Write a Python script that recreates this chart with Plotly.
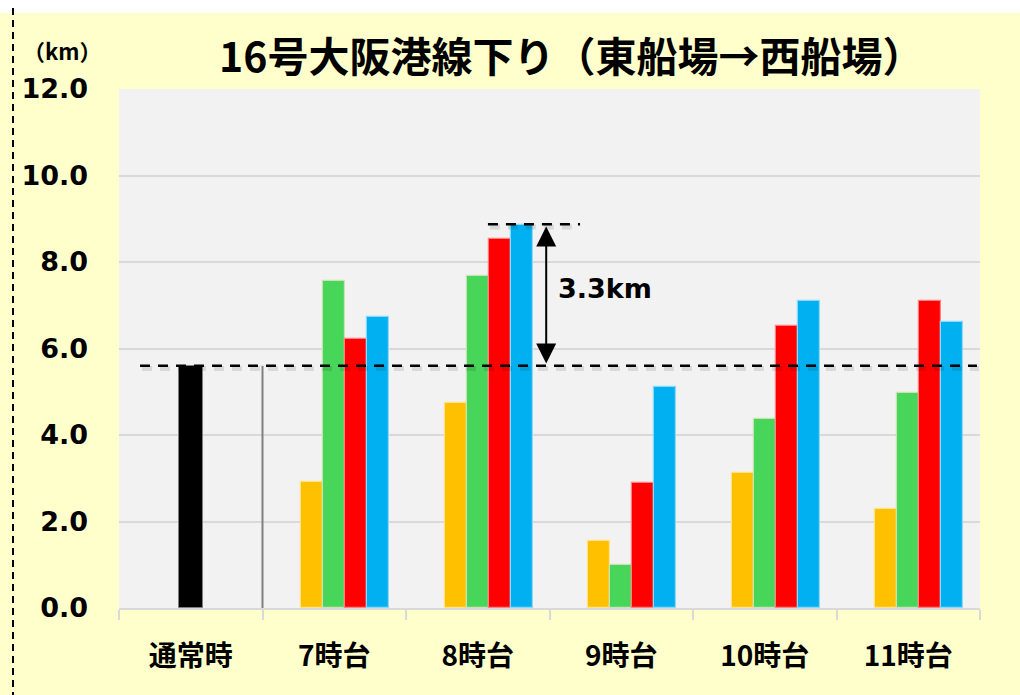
import plotly.graph_objects as go

categories = ["通常時", "7時台", "8時台", "9時台", "10時台", "11時台"]
normal = [5.6, None, None, None, None, None]
s_yellow = [None, 2.92, 4.73, 1.54, 3.13, 2.28]
s_green = [None, 7.57, 7.67, 0.99, 4.38, 4.98]
s_red = [None, 6.23, 8.53, 2.89, 6.53, 7.09]
s_blue = [None, 6.72, 8.85, 5.10, 7.10, 6.62]
normal_level = 5.6
peak_level = 8.87
diff_label = "3.3km"
title_text = "16号大阪港線下り（東船場→西船場）"
unit_label = "（km）"
y_ticks = [0, 2, 4, 6, 8, 10, 12]

W, H = 1020, 695
L, R, T, B = 119, 40, 89, 87
PW, PH = W - L - R, H - T - B

def px_x(px):
    return (px - L) / PW

def px_y(py):
    return 1 - (py - T) / PH

fig = go.Figure()
bw = 0.1533
series = [
    (s_yellow, "#FFC000", "#FFE38A", -0.2300),
    (s_green, "#47D55A", "#C9E3B5", -0.0767),
    (s_red, "#FF0000", "#FF8080", 0.0767),
    (s_blue, "#00B0F0", "#8AD9F7", 0.2300),
]
fig.add_trace(go.Bar(x=categories, y=normal, width=[0.167] * 6, offset=[-0.0835] * 6,
                     marker=dict(color="#000000", line=dict(color="#7F7F7F", width=1)),
                     showlegend=False, hoverinfo="skip"))
for vals, col, lcol, off in series:
    fig.add_trace(go.Bar(x=categories, y=vals, width=[bw] * 6, offset=[off] * 6,
                         marker=dict(color=col, line=dict(color=lcol, width=1.2)),
                         showlegend=False, hoverinfo="skip"))

shapes = []
# white top strip
shapes.append(dict(type="rect", xref="paper", yref="paper", x0=px_x(0), x1=px_x(W),
                   y0=px_y(13), y1=px_y(0), fillcolor="white", line=dict(width=0), layer="below"))
# left dashed line
shapes.append(dict(type="line", xref="paper", yref="paper", x0=px_x(13), x1=px_x(13),
                   y0=px_y(8), y1=px_y(H), line=dict(color="black", width=2, dash="7px,5px")))
# separator
shapes.append(dict(type="line", xref="x", yref="y", x0=0.5, x1=0.5, y0=0, y1=normal_level,
                   line=dict(color="#808080", width=2)))
# shadows of dashed lines
shapes.append(dict(type="line", xref="paper", yref="y", x0=px_x(142), x1=px_x(979),
                   y0=normal_level - 0.06, y1=normal_level - 0.06,
                   line=dict(color="rgba(0,0,0,0.10)", width=5, dash="10px,8px")))
shapes.append(dict(type="line", xref="x", yref="y", x0=2.085, x1=2.713,
                   y0=peak_level - 0.06, y1=peak_level - 0.06,
                   line=dict(color="rgba(0,0,0,0.10)", width=5, dash="10px,8px")))
# normal level dashed line
shapes.append(dict(type="line", xref="paper", yref="y", x0=px_x(140), x1=px_x(977),
                   y0=normal_level, y1=normal_level,
                   line=dict(color="black", width=2.5, dash="10px,8px")))
# peak dashed line
shapes.append(dict(type="line", xref="x", yref="y", x0=2.071, x1=2.713,
                   y0=peak_level, y1=peak_level,
                   line=dict(color="black", width=2.5, dash="10px,8px")))

annotations = []
annotations.append(dict(x=2.477, y=peak_level - 0.05, ax=2.477, ay=normal_level + 0.02,
                        xref="x", yref="y", axref="x", ayref="y", text="",
                        showarrow=True, arrowhead=2, arrowside="end+start",
                        arrowsize=2.0, arrowwidth=2, arrowcolor="black"))
annotations.append(dict(x=2.545, y=7.38, xref="x", yref="y", text=diff_label,
                        showarrow=False, xanchor="left", yanchor="middle",
                        font=dict(family="DejaVu Sans", size=27, color="black", weight="bold")))
annotations.append(dict(x=px_x(571), y=px_y(54), xref="paper", yref="paper", text=title_text,
                        showarrow=False, xanchor="center", yanchor="middle",
                        font=dict(family="Noto Sans CJK JP", size=41, color="black", weight="bold")))
annotations.append(dict(x=px_x(62), y=px_y(50), xref="paper", yref="paper", text=unit_label,
                        showarrow=False, xanchor="center", yanchor="middle",
                        font=dict(family="Noto Sans CJK JP", size=22, color="black", weight="bold")))

fig.update_layout(
    width=W, height=H,
    margin=dict(l=L, r=R, t=T, b=B, pad=0),
    paper_bgcolor="#FFFFCC", plot_bgcolor="#F2F2F2",
    barmode="overlay", bargap=0,
    showlegend=False,
    shapes=shapes, annotations=annotations,
    xaxis=dict(type="category", categoryorder="array", categoryarray=categories,
               range=[-0.5, 5.5], showgrid=False, showline=True, linecolor="#D9D9D9", linewidth=2,
               ticks="outside", tickson="boundaries", ticklen=10, tickcolor="#D9D9D9", tickwidth=2,
               ticklabelstandoff=22,
               tickfont=dict(family="Noto Sans CJK JP", size=28, color="black", weight="bold")),
    yaxis=dict(range=[0, 12], tickvals=y_ticks, tickformat=".1f", showgrid=True,
               gridcolor="#D9D9D9", gridwidth=1.5, zeroline=False, showline=False, ticks="",
               ticklabelstandoff=30,
               tickfont=dict(family="DejaVu Sans", size=27, color="black", weight="bold")),
)

fig.write_html("out.html", config={"displayModeBar": False},
               post_script="document.body.style.margin='0px';document.body.style.overflow='hidden';")
